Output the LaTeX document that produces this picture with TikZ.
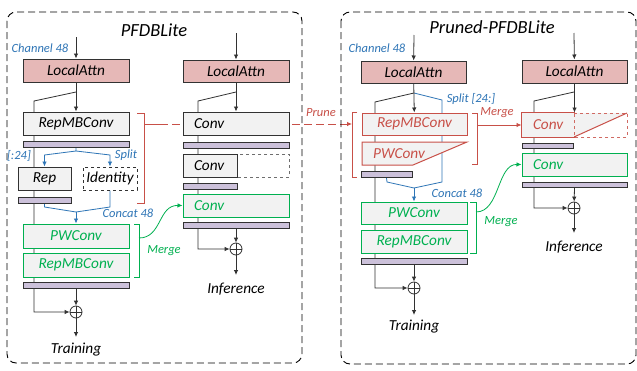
\documentclass[tikz,border=0pt]{standalone}
\usepackage{fontspec}
\setmainfont{Carlito}
\usetikzlibrary{arrows.meta}
\definecolor{bdr}{RGB}{50,50,50}
\definecolor{boxf}{RGB}{242,242,242}
\definecolor{pinkf}{RGB}{230,184,183}
\definecolor{barf}{RGB}{204,193,218}
\definecolor{myblue}{RGB}{46,117,182}
\definecolor{myred}{RGB}{200,80,72}
\definecolor{mygreen}{RGB}{0,176,80}
\definecolor{dgray}{RGB}{110,110,110}
\pgfdeclarelayer{bg}
\pgfdeclarelayer{paper}
\pgfsetlayers{paper,bg,main}
\newcommand{\boxfnt}{\itshape\fontsize{15.3}{15.3}\selectfont}
\newcommand{\lblfnt}{\itshape\fontsize{12.5}{12.5}\selectfont}
\newcommand{\ttlfnt}{\itshape\fontsize{18.5}{18.5}\selectfont}
\begin{document}
\begin{tikzpicture}[x=1pt,y=-1pt,
  box/.style={draw=bdr, fill=boxf, line width=1pt, minimum height=23pt, inner sep=0pt, font=\boxfnt},
  gbox/.style={box, draw=mygreen, text=mygreen},
  rbox/.style={box, draw=myred, text=myred},
  lt/.style={inner xsep=11pt, text width=#1, align=left},
  bar/.style={draw=bdr, fill=barf, line width=1pt, minimum height=6pt, inner sep=0pt},
  lbl/.style={font=\lblfnt, inner sep=0pt},
  ttl/.style={font=\ttlfnt, inner sep=0pt},
  outtxt/.style={font=\boxfnt, inner sep=0pt},
  ln/.style={line width=0.8pt, draw=bdr},
  arr/.style={ln, -{Latex[length=5pt,width=4.5pt]}},
  bl/.style={line width=0.8pt, draw=myblue},
  blarr/.style={bl, -{Latex[length=5pt,width=4.5pt]}},
  rl/.style={line width=0.8pt, draw=myred},
  rarr/.style={rl, -{Latex[length=5pt,width=4.5pt]}},
  gl/.style={line width=0.8pt, draw=mygreen},
  garr/.style={gl, -{Latex[length=5pt,width=4.5pt]}},
  frame/.style={draw=black, line width=0.9pt, dash pattern=on 7pt off 4pt, rounded corners=9pt},
  op/.style={circle, draw=bdr, fill=white, line width=0.8pt, minimum size=12pt, inner sep=0pt,
    path picture={\draw[line width=0.8pt] (path picture bounding box.north) -- (path picture bounding box.south)
      (path picture bounding box.west) -- (path picture bounding box.east);}}
]
\useasboundingbox (0,0) rectangle (637,370);
\begin{pgfonlayer}{paper}
\fill[white] (0,0) rectangle (637,370);
\end{pgfonlayer}

% frames and titles
\draw[frame] (7,12) rectangle (302,363);
\draw[frame] (341,12) rectangle (636,364);
\node[ttl] (t1) at (154,30) {PFDBLite};
\node[ttl] (t2) at (492,27) {Pruned-PFDBLite};

% ================= left column (training) =================
\node[lbl, text=myblue] (ch1) at (40,48) {Channel 48};
\coordinate (in1) at (76,37);
\node[box, fill=pinkf, minimum width=106pt] (la1) at (76,70.5) {LocalAttn};
\node[box, minimum width=106pt] (rmb1) at (76,123.5) {RepMBConv};
\node[bar, minimum width=106pt] (b1a) at (76,144) {};
\node[box, minimum width=53pt] (rep1) at (44.5,178.5) {Rep};
\node[box, dashed, fill=white, minimum width=54pt] (id1) at (110,178.5) {Identity};
\node[bar, minimum width=53pt] (b1b) at (44.5,200) {};
\node[gbox, minimum width=106pt, minimum height=24pt] (pw1) at (76,236) {PWConv};
\node[gbox, minimum width=106pt, minimum height=24pt] (rg1) at (76,265) {RepMBConv};
\node[bar, minimum width=106pt] (b1c) at (76,285) {};
\node[op] (o1) at (76,312) {};
\coordinate (e1) at (76,337);
\node[outtxt] (tr1) at (76,350) {Training};
\coordinate (s1) at (76,92);

\begin{pgfonlayer}{bg}
\draw[arr] (s1) -- (34,101) |- (o1);
\draw[blarr] (b1a.south) -- (76,151) -- (44.5,155) -- (rep1.north);
\draw[blarr] (76,151) -- (110,155) -- (id1.north);
\draw[bl] (b1b.south) -- (44.5,207) -- (76,212);
\draw[bl] (id1.south) -- (110,207) -- (76,212);
\draw[blarr] (76,212) -- (pw1.north);
\end{pgfonlayer}
\draw[arr] (in1) -- (la1);
\draw[arr] (la1) -- (rmb1);
\draw[arr] (b1c.south) -- (o1);
\draw[arr] (o1) -- (e1);
\node[lbl, text=myblue] (l24) at (19,156) {[:24]};
\node[lbl, text=myblue] (spl1) at (126,155) {Split};
\node[lbl, text=myblue] (cc1) at (128,213) {Concat 48};

% red bracket (left)
\draw[rl] (137,113) -- (144,113) -- (144,203) -- (137,203);
\coordinate (pr1) at (144,124);
% green bracket (left)
\draw[gl] (134,224) -- (139,224) -- (139,277) -- (134,277);
\coordinate (mg1) at (139,238);

% ================= middle column (inference) =================
\coordinate (in2) at (236,33);
\node[box, fill=pinkf, minimum width=106pt, minimum height=22pt] (la2) at (236,71) {LocalAttn};
\node[box, lt=84pt, minimum width=106pt] (c2a) at (236,123.5) {Conv};
\node[bar, minimum width=106pt] (b2a) at (236,145) {};
\draw[dgray, dashed, line width=0.9pt] (237,154) rectangle (289,177);
\node[box, lt=32pt, minimum width=54pt] (c2b) at (210,165.5) {Conv};
\node[bar, minimum width=54pt] (b2b) at (210,186) {};
\node[gbox, lt=84pt, minimum width=106pt] (c2c) at (236,205.5) {Conv};
\node[bar, minimum width=106pt] (b2c) at (236,225) {};
\node[op] (o2) at (236,249) {};
\coordinate (e2) at (236,275);
\node[outtxt] (inf1) at (236,289) {Inference};
\coordinate (s2) at (236,92);
\begin{pgfonlayer}{bg}
\draw[arr] (s2) -- (198,101) |- (o2);
\coordinate (brL) at (352,124);
\draw[rl] (pr1) -- (160,124);
\draw[rarr, dash pattern=on 8pt off 4pt] (160,124) -- (brL);
\end{pgfonlayer}
\draw[arr] (in2) -- (la2);
\draw[arr] (la2) -- (c2a);
\draw[arr] (b2c.south) -- (o2);
\draw[arr] (o2) -- (e2);
\draw[garr] (mg1) .. controls (162,238) and (158,205) .. (c2c.west);
\node[lbl, text=mygreen] (mgl1) at (164,251) {Merge};
\node[lbl, text=myred] (prl) at (321,113) {Prune};

% ================= right panel, pruned training =================
\node[lbl, text=myblue] (ch2) at (377,48) {Channel 48};
\coordinate (in3) at (414,35);
\node[box, fill=pinkf, minimum width=105pt, minimum height=22pt] (la3) at (413.5,72) {LocalAttn};
\node[rbox, minimum width=105pt, minimum height=22pt] (rmb3) at (414.5,124) {RepMBConv};
\filldraw[fill=boxf, draw=myred, line width=1pt] (362,142) -- (467,142) -- (413,165) -- (362,165) -- cycle;
\node[lbl, font=\boxfnt, text=myred] (pw3) at (399,153.5) {PWConv};
\node[bar, minimum width=51pt] (b3a) at (386.5,174.5) {};
\node[gbox, minimum width=106pt, minimum height=22pt] (pwg3) at (414,213) {PWConv};
\node[gbox, minimum width=106pt] (rg3) at (414,241.5) {RepMBConv};
\node[bar, minimum width=106pt] (b3b) at (414,261.5) {};
\node[op] (o3) at (414,288) {};
\coordinate (e3) at (414,315);
\node[outtxt] (tr2) at (414,327) {Training};
\coordinate (s3) at (414,93);
\begin{pgfonlayer}{bg}
\draw[arr] (s3) -- (375,102) |- (o3);
\draw[bl] (s3) -- (442,100) -- (442,182) -- (414,188);
\draw[bl] (b3a.south) -- (387,182) -- (414,188);
\end{pgfonlayer}
\draw[blarr] (414,188) -- (pwg3.north);
\draw[arr] (in3) -- (la3);
\draw[arr] (la3) -- (rmb3);
\draw[arr] (b3b.south) -- (o3);
\draw[arr] (o3) -- (e3);
\draw[rl] (357,112) -- (352,112) -- (352,177) -- (357,177);
\draw[rl] (472,113) -- (477,113) -- (477,164) -- (472,164);
\coordinate (brR) at (477,125);
\draw[gl] (470,202) -- (476,202) -- (476,253) -- (470,253);
\coordinate (mg2) at (476,212);
\node[lbl, text=myblue] (spl2) at (471,99) {Split [24:]};
\node[lbl, text=myblue] (cc2) at (457,193) {Concat 48};
\node[lbl, text=myred] (mgr) at (497,113) {Merge};
\node[lbl, text=mygreen] (mgl2) at (501,222) {Merge};

% ================= right column, pruned inference =================
\coordinate (in4) at (574,33);
\node[box, fill=pinkf, minimum width=105pt] (la4) at (574.5,71.5) {LocalAttn};
\fill[boxf] (574,113) -- (627,113) -- (574,137) -- cycle;
\draw[myred!85, dashed, line width=1pt] (574,113) -- (627,113) -- (627,137) -- (574,137) -- cycle;
\draw[myred, line width=1pt] (574,137) -- (627,113);
\node[rbox, draw=none, lt=30pt, minimum width=52pt, minimum height=24pt] (c4a) at (548,125) {Conv};
\draw[myred, line width=1pt] (c4a.north east) -- (c4a.north west) -- (c4a.south west) -- (c4a.south east);
\node[bar, minimum width=51pt, minimum height=5pt] (b4a) at (547.5,145.5) {};
\node[gbox, lt=83pt, minimum width=105pt] (c4b) at (574.5,164.5) {Conv};
\node[bar, minimum width=105pt, minimum height=5pt] (b4b) at (574.5,184.5) {};
\node[op] (o4) at (574,208) {};
\coordinate (e4) at (574,233);
\node[outtxt] (inf2) at (574,247) {Inference};
\coordinate (s4) at (574,92);
\begin{pgfonlayer}{bg}
\draw[arr] (s4) -- (534,101) |- (o4);
\end{pgfonlayer}
\draw[arr] (in4) -- (la4);
\draw[arr] (la4) -- (c4a.north east);
\draw[arr] (b4b.south) -- (o4);
\draw[arr] (o4) -- (e4);
\draw[rarr] (brR) -- (c4a.west);
\draw[garr] (mg2) .. controls (500,212) and (497,164) .. (c4b.west);
\end{tikzpicture}
\end{document}
